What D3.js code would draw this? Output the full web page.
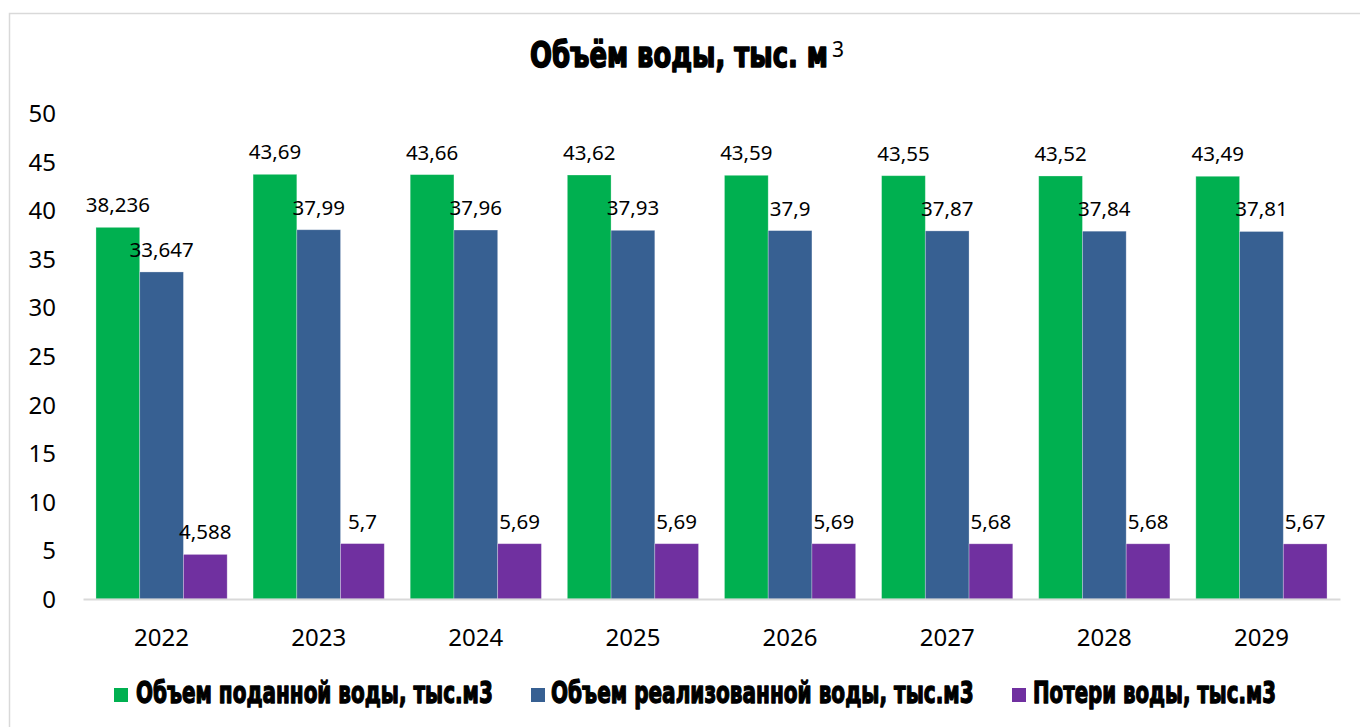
<!DOCTYPE html>
<html>
<head>
<meta charset="utf-8">
<script src="https://cdn.jsdelivr.net/npm/d3@7/dist/d3.min.js"></script>
<style>
html,body{margin:0;padding:0;background:#fff;}
svg{display:block;}
</style>
</head>
<body>
<svg id="chart" width="1360" height="727"></svg>
<script>
const years = ["2022","2023","2024","2025","2026","2027","2028","2029"];
const seriesNames = ["Объем поданной воды, тыс.м3","Объем реализованной воды, тыс.м3","Потери воды, тыс.м3"];
const supplied = [38.236,43.69,43.66,43.62,43.59,43.55,43.52,43.49];
const sold = [33.647,37.99,37.96,37.93,37.9,37.87,37.84,37.81];
const losses = [4.588,5.7,5.69,5.69,5.69,5.68,5.68,5.67];
const supplied_lbl = ["38,236","43,69","43,66","43,62","43,59","43,55","43,52","43,49"];
const sold_lbl = ["33,647","37,99","37,96","37,93","37,9","37,87","37,84","37,81"];
const losses_lbl = ["4,588","5,7","5,69","5,69","5,69","5,68","5,68","5,67"];
const yTicks = [0,5,10,15,20,25,30,35,40,45,50];
const colors = ["#00B050","#376092","#7030A0"];

const values = [supplied, sold, losses];
const labels = [supplied_lbl, sold_lbl, losses_lbl];

const svg = d3.select("#chart");
const boldFont = "'Liberation Sans Narrow','DejaVu Sans Condensed',sans-serif";
const numFont = "'Noto Sans','Open Sans',sans-serif";

// squeeze a text horizontally so it spans exactly targetW starting at x
function fitText(sel, x, baseY, targetW){
  const w = sel.node().getComputedTextLength();
  const k = targetW / w;
  sel.attr("x",0).attr("y",0).attr("transform",`translate(${x},${baseY}) scale(${k},1)`);
}

// chart border
svg.append("rect").attr("x",9.5).attr("y",13.5).attr("width",1400).attr("height",800)
  .attr("fill","none").attr("stroke","#d9d9d9").attr("stroke-width",1.5);

// title
const title = svg.append("text").text("Объём воды, тыс. м")
  .attr("font-family",boldFont).attr("font-weight","bold").attr("font-size",36)
  .attr("fill","#000").attr("stroke","#000").attr("stroke-width",1.6).attr("stroke-linejoin","round");
fitText(title, 530, 67, 298);
svg.append("text").attr("x",832).attr("y",57).text("3")
  .attr("font-family",numFont).attr("font-size",21).attr("fill","#000");

const y = d3.scaleLinear().domain([0,50]).range([599,113]);
const x0 = d3.scaleBand().domain(years).range([83,1340]).paddingInner(0).paddingOuter(0);
const groupW = x0.step()*0.835;
const x1 = d3.scaleBand().domain([0,1,2]).range([0,groupW]);

// y axis labels
const yAxis = d3.axisLeft(y).tickValues(yTicks).tickSize(0).tickPadding(0);
const gy = svg.append("g").attr("transform","translate(56,0)").call(yAxis);
gy.select(".domain").remove();
gy.selectAll("text").attr("font-family",numFont).attr("font-size",24).attr("fill","#000").attr("dy","0.35em");

// bars
const groups = svg.append("g").selectAll("g").data(years).join("g")
  .attr("transform",d=>`translate(${x0(d)+x0.bandwidth()/2-groupW/2},0)`);
groups.each(function(yr,i){
  const g = d3.select(this);
  [0,1,2].forEach(s=>{
    const v = values[s][i];
    g.append("rect").attr("x",x1(s)).attr("y",y(v)).attr("width",x1.bandwidth())
      .attr("height",y(0)-y(v)).attr("fill",colors[s])
      .attr("stroke","rgba(255,255,255,0.35)").attr("stroke-width",0.8);
  });
  [0,1,2].forEach(s=>{
    const v = values[s][i];
    g.append("text").attr("x",x1(s)+x1.bandwidth()/2).attr("y",y(v)-15)
      .attr("text-anchor","middle").attr("font-family",numFont).attr("font-size",20.5)
      .attr("fill","#000").text(labels[s][i]);
  });
});

// x axis
const xAxis = d3.axisBottom(x0).tickSize(0).tickPadding(0);
const gx = svg.append("g").attr("transform","translate(0,599)").call(xAxis);
gx.select(".domain").attr("stroke","#d9d9d9").attr("stroke-width",2);
gx.selectAll("text").attr("font-family",numFont).attr("font-size",24).attr("fill","#000")
  .attr("dy",0).attr("y",47);

// legend
const legendSq = [114,531,1012];
const legendTx = [136,551,1033];
const legendTw = [357,423,243];
const lg = svg.append("g");
seriesNames.forEach((n,i)=>{
  lg.append("rect").attr("x",legendSq[i]).attr("y",688).attr("width",14).attr("height",14).attr("fill",colors[i]);
  const t = lg.append("text").text(n)
    .attr("font-family",boldFont).attr("font-weight","bold").attr("font-size",30)
    .attr("fill","#000").attr("stroke","#000").attr("stroke-width",1.3).attr("stroke-linejoin","round");
  fitText(t, legendTx[i], 703, legendTw[i]);
});
</script>
</body>
</html>
